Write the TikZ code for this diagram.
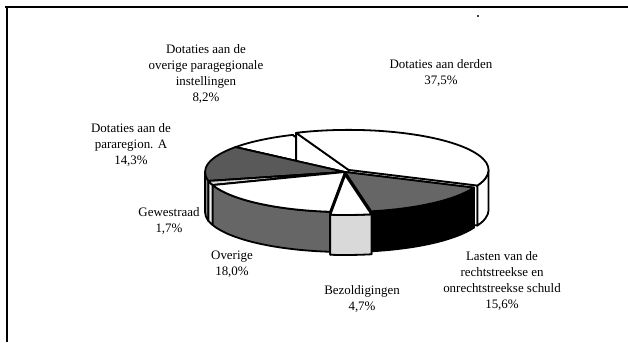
\documentclass[tikz,border=0pt]{standalone}
\usepackage{fontspec}
\setmainfont{Liberation Serif}
\usetikzlibrary{calc}
\tikzset{lbl/.style={align=center, inner sep=0pt, font=\fontsize{9.2}{11.5}\selectfont}}
\def\radface[#1](#2){\draw[fill=#1] (345,170) -- ({345+140*cos(#2)},{170+40*sin(#2)}) -- ++(0,-40) -- (345,130) -- cycle;}
\def\pieslice[#1][#2](#3:#4:#5){%
	\pgfmathsetmacro\pmid{(#3+#4)/2}%
	\pgfmathsetmacro\pghi{min(#3,0)}%
	\pgfmathsetmacro\pglo{max(#4,-180)}%
	\pgfmathsetmacro\pcos{cos(#3)}%
	\begin{scope}[shift={({#5*cos(\pmid)},{0.6*#5*sin(\pmid)})}, line width=0.45mm, line join=round]
		\ifdim\pcos pt<0pt \radface[#2](#4)\radface[#2](#3)\else \radface[#2](#3)\radface[#2](#4)\fi
		\ifdim\pghi pt>\pglo pt
		\draw[fill=#2] ({345+140*cos(\pghi)},{170+40*sin(\pghi)}) arc[start angle=\pghi, end angle=\pglo, x radius=140, y radius=40] -- ++(0,-40) arc[start angle=\pglo, end angle=\pghi, x radius=140, y radius=40] -- cycle;
		\fi
		\draw[fill=#1] (345,170) -- ({345+140*cos(#3)},{170+40*sin(#3)}) arc[start angle=#3, end angle=#4, x radius=140, y radius=40] -- cycle;
	\end{scope}}

\begin{document}
\begin{tikzpicture}[x=0.025cm, y=0.025cm]
			%%%%% START %%%%%
			\useasboundingbox (0,0) rectangle (628,342);
			
			\draw[line width=0.45mm] (5,335) -- (628,335);
			\draw[line width=0.4mm] (7,335) -- (7,0);
			\fill (478,326) circle[radius=0.8pt];
			
			\pieslice[white][white](141.5:112:0)
			\pieslice[white][white](112:-23:5)
			\pieslice[black!65][black!45](-167:-218.5:0)
			\pieslice[black!15][black!8](-160.9:-167:0)
			\pieslice[black!60][black](-23:-79.2:0)
			\pieslice[white][black!60](-96.1:-160.9:0)
			\pieslice[white][black!15](-79.2:-96.1:5)
			
			\node[lbl] (paragegionale) at (206,268) {Dotaties aan de\\overige paragegionale\\instellingen\\8,2\%};
			\node[lbl] (derden) at (441,269) {Dotaties aan derden\\37,5\%};
			\node[lbl] (pararegion) at (131,197) {Dotaties aan de\\pararegion. A\\14,3\%};
			\node[lbl] (gewestraad) at (169,121) {Gewestraad\\1,7\%};
			\node[lbl] (overige) at (232,78) {Overige\\18,0\%};
			\node[lbl] (bezoldigingen) at (362,43) {Bezoldigingen\\4,7\%};
			\node[lbl] (lasten) at (502,61) {Lasten van de\\rechtstreekse en\\onrechtstreekse schuld\\15,6\%};
			
			%%%%% END %%%%%
		\end{tikzpicture}
\end{document}
